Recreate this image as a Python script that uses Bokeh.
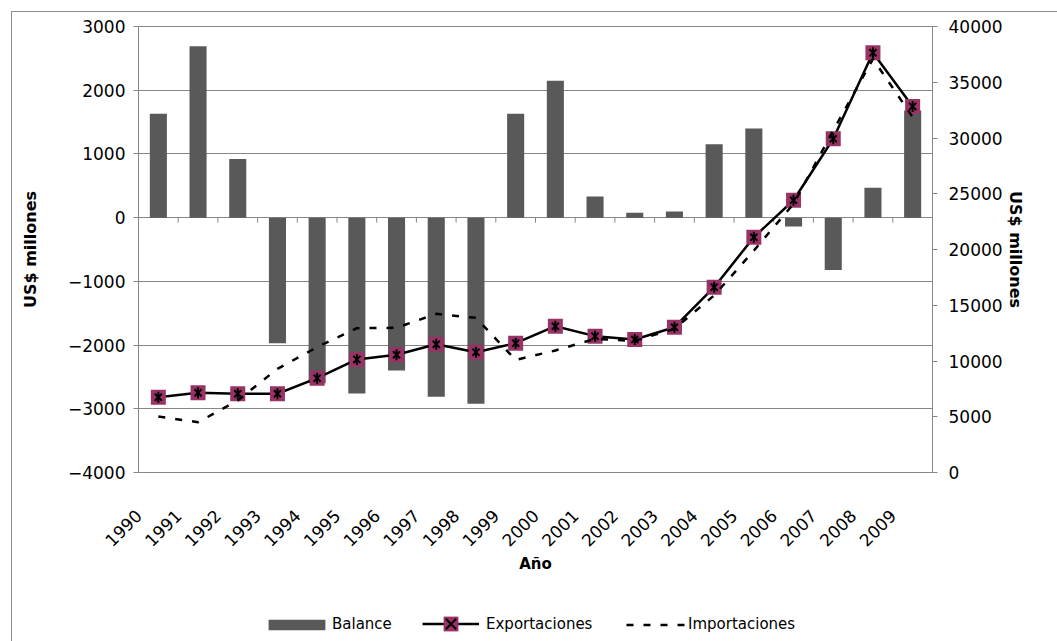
import math
from bokeh.plotting import figure
from bokeh.layouts import column
from bokeh.models import (Range1d, LinearAxis, FixedTicker, Legend, LegendItem,
                          ColumnDataSource)
from bokeh.embed import file_html
from bokeh.resources import INLINE

# ---- data ----
years = ["1990", "1991", "1992", "1993", "1994", "1995", "1996", "1997", "1998", "1999",
         "2000", "2001", "2002", "2003", "2004", "2005", "2006", "2007", "2008", "2009"]
balance = [1630, 2690, 920, -1970, -2600, -2760, -2400, -2810, -2920, 1630,
           2150, 330, 75, 95, 1150, 1400, -140, -820, 470, 1680]
exports = [6750, 7150, 7060, 7060, 8460, 10140, 10560, 11500, 10790, 11600,
           13120, 12230, 11930, 13030, 16620, 21100, 24420, 29930, 37640, 32830]
imports = [5020, 4510, 6460, 9300, 11240, 12940, 12980, 14230, 13870, 10100,
           10940, 11990, 11800, 12900, 15880, 19900, 24100, 30670, 37100, 31870]
left_ticks = [-4000, -3000, -2000, -1000, 0, 1000, 2000, 3000]
right_ticks = [0, 5000, 10000, 15000, 20000, 25000, 30000, 35000, 40000]
axis_title = "US$ millones"
x_title = "Año"
series_names = ["Balance", "Exportaciones", "Importaciones"]

FONT = "DejaVu Sans"
GRID = "#868686"
BAR = "#595959"
MARK = "#993366"

n = len(years)
xc = [i + 0.5 for i in range(n)]
src = ColumnDataSource(dict(x=xc, bal=balance, exp=exports, imp=imports))

border_css = {
    "background-color": "white",
    "background-image": "linear-gradient(#8c8c8c, #8c8c8c), linear-gradient(#8c8c8c, #8c8c8c)",
    "background-size": "1px 100%, 100% 1px",
    "background-position": "11px 11px, 11px 11px",
    "background-repeat": "no-repeat",
}

MAIN_H = 600
p = figure(width=1057, height=MAIN_H, output_backend="svg", toolbar_location=None,
           x_range=Range1d(0, n), y_range=Range1d(left_ticks[0], left_ticks[-1]),
           min_border_left=138, min_border_right=125, min_border_top=26,
           min_border_bottom=MAIN_H - 472)
p.extra_y_ranges = {"trade": Range1d(right_ticks[0], right_ticks[-1])}
p.outline_line_color = GRID
p.background_fill_color = "white"
p.border_fill_alpha = 0

# grid
p.xgrid.visible = False
p.ygrid.ticker = FixedTicker(ticks=left_ticks)
p.ygrid.grid_line_color = GRID
p.ygrid.grid_line_width = 1

# left axis
ya = p.yaxis[0]
ya.ticker = FixedTicker(ticks=left_ticks)
ya.axis_line_color = GRID
ya.major_tick_line_color = GRID
ya.major_tick_out = 5
ya.major_tick_in = 0
ya.minor_tick_line_color = None
ya.major_label_standoff = 8
ya.major_label_text_font = FONT
ya.major_label_text_font_size = "17px"
ya.major_label_text_color = "black"
ya.axis_label = axis_title
ya.axis_label_text_font = FONT
ya.axis_label_text_font_size = "16px"
ya.axis_label_text_font_style = "bold"
ya.axis_label_text_color = "black"
ya.axis_label_standoff = 25

# right axis
ra = LinearAxis(y_range_name="trade", ticker=FixedTicker(ticks=right_ticks))
ra.axis_line_color = GRID
ra.major_tick_line_color = GRID
ra.major_tick_out = 5
ra.major_tick_in = 0
ra.minor_tick_line_color = None
ra.major_label_standoff = 11
ra.major_label_text_font = FONT
ra.major_label_text_font_size = "17px"
ra.major_label_text_color = "black"
ra.axis_label = axis_title
ra.axis_label_text_font = FONT
ra.axis_label_text_font_size = "16px"
ra.axis_label_text_font_style = "bold"
ra.axis_label_text_color = "black"
ra.axis_label_standoff = 0
p.add_layout(ra, "right")

# bottom axis
xa = p.xaxis[0]
tick_pos = list(range(n))
xa.ticker = FixedTicker(ticks=tick_pos)
xa.major_label_overrides = {t: years[i] for i, t in enumerate(tick_pos)}
xa.major_label_orientation = math.pi / 4
xa.major_tick_out = 0
xa.major_tick_in = 0
xa.minor_tick_line_color = None
xa.axis_line_color = GRID
xa.major_label_standoff = 40
xa.major_label_text_font = FONT
xa.major_label_text_font_size = "17px"
xa.major_label_text_color = "black"
xa.axis_label = x_title
xa.axis_label_text_font = FONT
xa.axis_label_text_font_size = "15px"
xa.axis_label_text_font_style = "bold"
xa.axis_label_text_color = "black"
xa.axis_label_standoff = 0

# category tick marks hanging from the zero line
tick_len = 5 * (left_ticks[-1] - left_ticks[0]) / 446.0
bx = list(range(1, n))
p.segment(x0=bx, x1=bx, y0=[0] * len(bx), y1=[-tick_len] * len(bx),
          line_color=GRID, line_width=1)

# bars
p.vbar(x="x", top="bal", bottom=0, width=0.43, source=src,
       fill_color=BAR, line_color=None)

# exports
p.line("x", "exp", source=src, y_range_name="trade", line_color="black", line_width=2.5)
p.scatter("x", "exp", source=src, y_range_name="trade", marker="square",
          size=15, fill_color=MARK, line_color=None)
p.scatter("x", "exp", source=src, y_range_name="trade", marker="x",
          size=10, line_color="black", line_width=2)
p.scatter("x", "exp", source=src, y_range_name="trade", marker="dash",
          angle=math.pi / 2, size=11, line_color="black", line_width=2)

# imports
p.line("x", "imp", source=src, y_range_name="trade",
       line_color="black", line_width=2.5, line_dash="7 10")

# ---- legend strip (separate figure, same glyph styles, NaN placeholder rows) ----
LEG_H = 641 - MAIN_H
q = figure(width=1057, height=LEG_H, output_backend="svg", toolbar_location=None,
           x_range=Range1d(0, 1), y_range=Range1d(0, 1),
           x_axis_location=None, y_axis_location=None,
           min_border_left=138, min_border_right=125,
           min_border_top=0, min_border_bottom=0)
q.grid.visible = False
q.outline_line_color = None
q.background_fill_alpha = 0
q.border_fill_alpha = 0
nan = float("nan")
proxy = ColumnDataSource(dict(x=[nan], y=[nan]))
lb = q.vbar(x="x", top="y", width=0.5, source=proxy, fill_color=BAR, line_color=None)
le = q.line("x", "y", source=proxy, line_color="black", line_width=2.5)
ls = q.scatter("x", "y", source=proxy, marker="square", size=15,
               fill_color=MARK, line_color=None)
lx = q.scatter("x", "y", source=proxy, marker="x", size=10,
               line_color="black", line_width=2)
li = q.line("x", "y", source=proxy, line_color="black", line_width=2.5, line_dash="7 10")

common = dict(orientation="horizontal", padding=0, margin=0, spacing=0,
              label_text_font=FONT, label_text_font_size="15px",
              label_text_color="black", border_line_alpha=0,
              background_fill_alpha=0)
leg1 = Legend(items=[LegendItem(label=series_names[0], renderers=[lb])],
              location=(123, 8), glyph_width=71, glyph_height=13,
              label_standoff=0, **common)
leg2 = Legend(items=[LegendItem(label=series_names[1], renderers=[le, ls, lx])],
              location=(284, -1), glyph_width=57, glyph_height=37,
              label_standoff=7, **common)
leg3 = Legend(items=[LegendItem(label=series_names[2], renderers=[li])],
              location=(488, 8), glyph_width=60, glyph_height=11,
              label_standoff=2, **common)
for lg in (leg1, leg2, leg3):
    q.add_layout(lg, "center")

layout = column(p, q, spacing=0, styles=border_css)
open("out.html", "w").write(file_html(layout, INLINE))
